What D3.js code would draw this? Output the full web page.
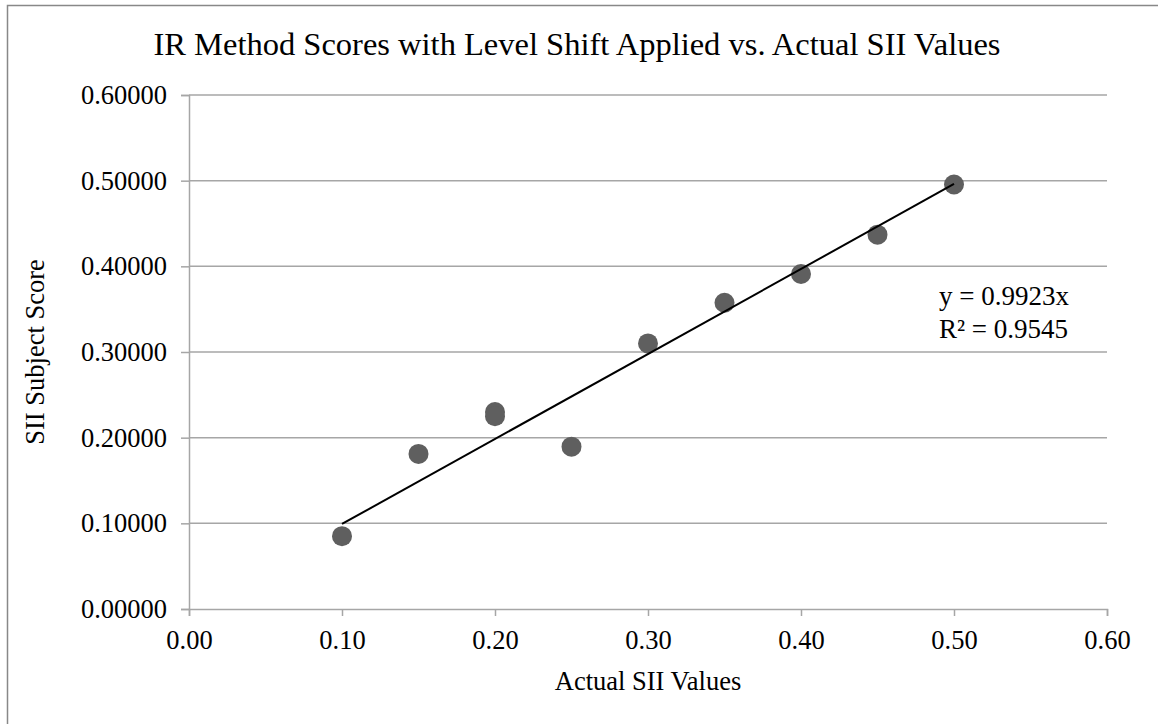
<!DOCTYPE html>
<html>
<head>
<meta charset="utf-8">
<script src="https://cdn.jsdelivr.net/npm/d3@7"></script>
<style>
  html, body { margin: 0; padding: 0; background: #fff; }
  svg { display: block; }
  text { font-family: "Liberation Serif", "Times New Roman", serif; fill: #000; }
</style>
</head>
<body>
<svg id="chart" width="1158" height="724"></svg>
<script>
// Actual SII values (x) and the IR method subject scores (y)
const actualSII = [0.10, 0.15, 0.20, 0.20, 0.25, 0.30, 0.35, 0.40, 0.45, 0.50];
const subjectScore = [0.085, 0.181, 0.230, 0.225, 0.1895, 0.310, 0.3575, 0.391, 0.437, 0.4955];
const xTicks = [0, 0.1, 0.2, 0.3, 0.4, 0.5, 0.6];
const yTicks = [0, 0.1, 0.2, 0.3, 0.4, 0.5, 0.6];
const slope = 0.9923;
const rSquared = 0.9545;

const serif = "'Liberation Serif', 'Times New Roman', serif";
const svg = d3.select("#chart");
const plot = { left: 189, right: 1107, top: 95, bottom: 609 };

const x = d3.scaleLinear().domain([0, 0.6]).range([plot.left, plot.right]);
const y = d3.scaleLinear().domain([0, 0.6]).range([plot.bottom, plot.top]);

// outer chart frame
svg.append("rect")
  .attr("x", 7.5).attr("y", 5.5)
  .attr("width", 1200).attr("height", 800)
  .attr("fill", "none").attr("stroke", "#888").attr("stroke-width", 1.5);

// title
svg.append("text")
  .attr("x", 577).attr("y", 55)
  .attr("text-anchor", "middle")
  .style("font-size", "32.5px")
  .text("IR Method Scores with Level Shift Applied vs. Actual SII Values");

// horizontal gridlines
svg.append("g").selectAll("line")
  .data(yTicks.filter(d => d > 0))
  .join("line")
  .attr("x1", x(0)).attr("x2", x(0.6))
  .attr("y1", d => y(d)).attr("y2", d => y(d))
  .attr("stroke", "#a6a6a6").attr("stroke-width", 1.5);

// y axis
const yAxis = svg.append("g")
  .attr("transform", `translate(${x(0)},0)`)
  .call(d3.axisLeft(y).tickValues(yTicks).tickFormat(d3.format(".5f")).tickSize(8).tickPadding(14));

// x axis
const xAxis = svg.append("g")
  .attr("transform", `translate(0,${y(0)})`)
  .call(d3.axisBottom(x).tickValues(xTicks).tickFormat(d3.format(".2f")).tickSize(7).tickPadding(14));

[yAxis, xAxis].forEach(g => {
  g.attr("font-family", serif).attr("font-size", 26.5);
  g.select(".domain").attr("stroke", "#a6a6a6").attr("stroke-width", 1.5);
  g.selectAll(".tick line").attr("stroke", "#a6a6a6").attr("stroke-width", 1.5);
  g.selectAll(".tick text").attr("fill", "#000");
});

// axis titles
svg.append("text")
  .attr("x", (plot.left + plot.right) / 2).attr("y", 690)
  .attr("text-anchor", "middle")
  .style("font-size", "26.5px")
  .text("Actual SII Values");

svg.append("text")
  .attr("transform", `translate(44,${(plot.top + plot.bottom) / 2}) rotate(-90)`)
  .attr("text-anchor", "middle")
  .style("font-size", "26.5px")
  .text("SII Subject Score");

// data points
svg.append("g").selectAll("circle")
  .data(actualSII.map((v, i) => [v, subjectScore[i]]))
  .join("circle")
  .attr("cx", d => x(d[0])).attr("cy", d => y(d[1]))
  .attr("r", 10)
  .attr("fill", "#5f5f5f");

// linear trendline through origin
const xExtent = d3.extent(actualSII);
svg.append("line")
  .attr("x1", x(xExtent[0])).attr("y1", y(slope * xExtent[0]))
  .attr("x2", x(xExtent[1])).attr("y2", y(slope * xExtent[1]))
  .attr("stroke", "#000").attr("stroke-width", 2);

// equation label
const eq = svg.append("text").attr("x", 939).attr("y", 305).style("font-size", "27px");
eq.append("tspan").text(`y = ${slope}x`);
eq.append("tspan").attr("x", 939).attr("y", 338).text(`R² = ${rSquared}`);
</script>
</body>
</html>
